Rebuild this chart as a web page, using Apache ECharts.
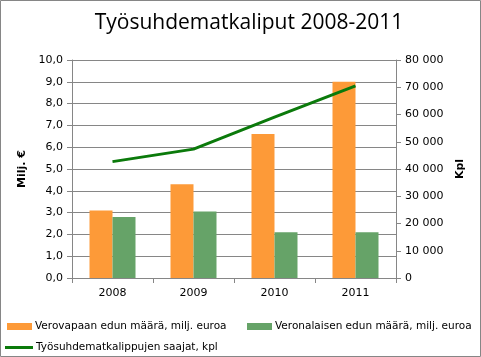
<!DOCTYPE html>
<html><head><meta charset="utf-8">
<script src="https://cdn.jsdelivr.net/npm/echarts@6/dist/echarts.min.js"></script>
<style>html,body{margin:0;padding:0;background:#fff}#c{width:481px;height:357px}</style>
</head><body><div id="c"></div>
<script>
const categories = ['2008', '2009', '2010', '2011'];
const verovapaa = [3.1, 4.3, 6.6, 9.0];
const veronalainen = [2.8, 3.05, 2.1, 2.1];
const saajat = [42700, 47300, 59000, 70500];
const seriesNames = ['Verovapaan edun määrä, milj. euroa', 'Veronalaisen edun määrä, milj. euroa', 'Työsuhdematkalippujen saajat, kpl'];
const title = 'Työsuhdematkaliput 2008-2011';

const F = 'DejaVu Sans';
const chart = echarts.init(document.getElementById('c'), null, {renderer: 'canvas'});
const legendText = {fontFamily: F, fontSize: 10.5, color: '#000', padding: [0, 0, 0, -2]};
chart.setOption({
  animation: false,
  backgroundColor: '#fff',
  title: {text: title, left: 244, textAlign: 'center', top: 8,
    textStyle: {fontFamily: 'Open Sans', fontWeight: 'normal', fontSize: 21, color: '#000'}},
  graphic: [{type: 'rect', shape: {x: 0.5, y: 0.5, width: 480, height: 356},
    style: {fill: 'none', stroke: '#868686', lineWidth: 1}, silent: true}],
  grid: {left: 72, right: 85, top: 60, bottom: 79},
  legend: [
    {data: [seriesNames[0]], left: 2, top: 316, icon: 'rect', itemWidth: 25, itemHeight: 7, itemGap: 0, textStyle: legendText},
    {data: [seriesNames[1]], left: 242, top: 316, icon: 'rect', itemWidth: 25, itemHeight: 7, itemGap: 0, textStyle: legendText},
    {data: [seriesNames[2]], left: 0, top: 337, icon: 'rect', itemWidth: 28, itemHeight: 3, itemGap: 0, textStyle: legendText}
  ],
  xAxis: {type: 'category', data: categories, boundaryGap: true,
    axisLine: {lineStyle: {color: '#868686'}},
    axisTick: {show: true, length: 5, lineStyle: {color: '#868686'}},
    axisLabel: {fontFamily: F, fontSize: 11, color: '#000', margin: 10}},
  yAxis: [
    {type: 'value', min: 0, max: 10, interval: 1, name: 'Milj. €', nameLocation: 'middle', nameRotate: 90, nameGap: 40,
      nameTextStyle: {fontFamily: F, fontSize: 11, fontWeight: 'bold', color: '#000'},
      axisLine: {show: true, lineStyle: {color: '#868686'}},
      axisTick: {show: true, length: 5, lineStyle: {color: '#868686'}},
      splitLine: {lineStyle: {color: '#868686'}},
      axisLabel: {fontFamily: F, fontSize: 11, color: '#000', margin: 9,
        formatter: v => v.toFixed(1).replace('.', ',')}},
    {type: 'value', min: 0, max: 80000, interval: 10000, position: 'right', name: 'Kpl', nameLocation: 'middle', nameRotate: 90, nameGap: 56,
      nameTextStyle: {fontFamily: F, fontSize: 11, fontWeight: 'bold', color: '#000'},
      axisLine: {show: true, lineStyle: {color: '#868686'}},
      axisTick: {show: true, length: 5, lineStyle: {color: '#868686'}},
      splitLine: {show: false},
      axisLabel: {fontFamily: F, fontSize: 11, color: '#000', margin: 9,
        formatter: v => String(v).replace(/\B(?=(\d{3})+(?!\d))/g, ' ')}}
  ],
  series: [
    {name: seriesNames[0], type: 'bar', data: verovapaa, yAxisIndex: 0, barWidth: 23, barGap: '0%', itemStyle: {color: '#fd9a38'}},
    {name: seriesNames[1], type: 'bar', data: veronalainen, yAxisIndex: 0, barWidth: 23, barGap: '0%', itemStyle: {color: '#66a368'}},
    {name: seriesNames[2], type: 'line', data: saajat, yAxisIndex: 1, symbol: 'none', lineStyle: {color: '#0b7a0b', width: 3}, itemStyle: {color: '#0b7a0b'}}
  ]
});
</script></body></html>
